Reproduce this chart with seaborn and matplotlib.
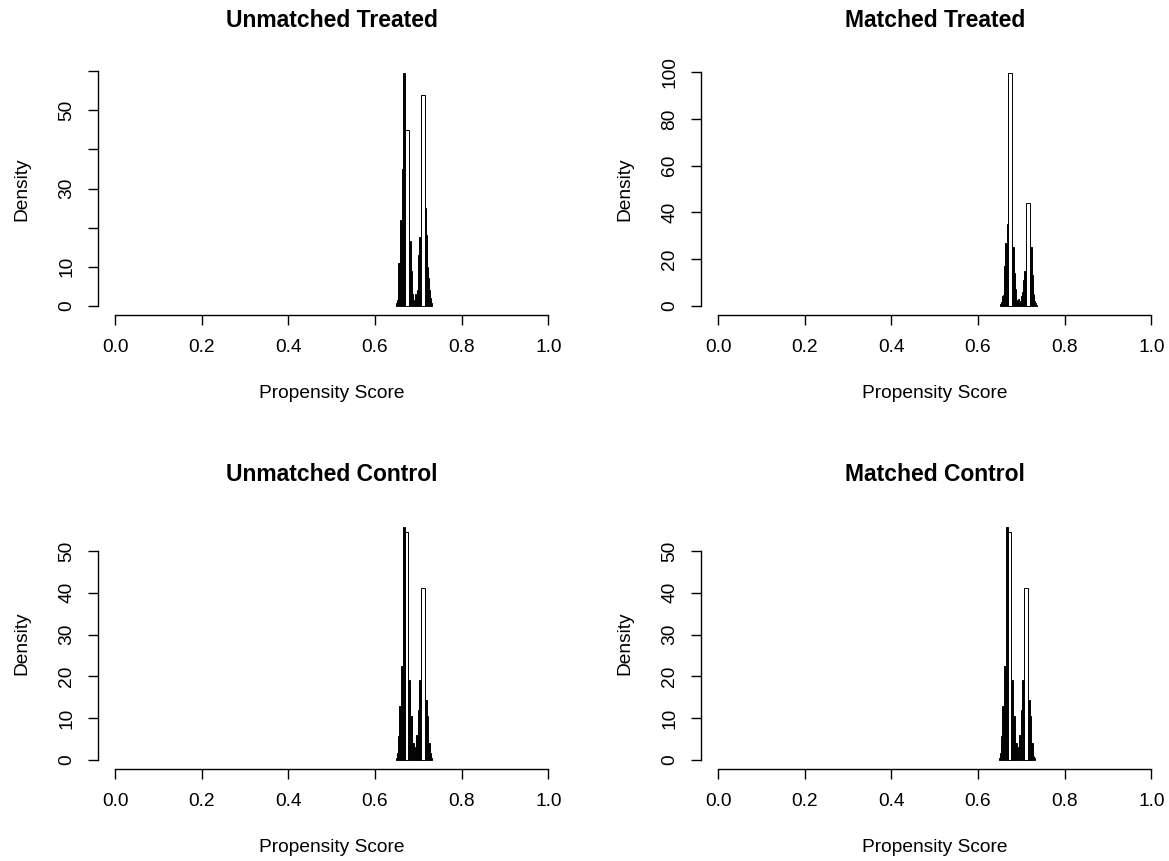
import matplotlib
matplotlib.use("Agg")
import matplotlib.pyplot as plt
import seaborn as sns

# ---------------- data (densities) ----------------
titles = ["Unmatched Treated", "Matched Treated", "Unmatched Control", "Matched Control"]

edges_unmatched_treated = [
    0.648, 0.650, 0.652, 0.654, 0.656, 0.658, 0.660, 0.662, 0.664, 0.666, 0.668, 0.670,
    0.678, 0.680, 0.682, 0.684, 0.686, 0.688, 0.690, 0.692, 0.694, 0.696, 0.698, 0.700,
    0.702, 0.704, 0.706,
    0.715, 0.717, 0.719, 0.721, 0.723, 0.725, 0.727, 0.729, 0.731,
]
density_unmatched_treated = [
    0.8, 1.5, 3, 11, 11, 22, 22, 35, 59.5, 59.5, 34,
    45,
    16.5, 16.5, 9, 9, 3, 1.5, 1, 3, 2, 4, 10, 13, 17.5, 17.5,
    54,
    25, 18, 18, 10, 7, 4, 2, 0.7,
]

edges_matched_treated = [
    0.651, 0.653, 0.655, 0.657, 0.659, 0.661, 0.663, 0.665, 0.667, 0.669,
    0.678, 0.680, 0.682, 0.684, 0.686, 0.688, 0.690, 0.692, 0.694, 0.696, 0.698, 0.700,
    0.702, 0.704, 0.706, 0.708, 0.710,
    0.720, 0.722, 0.724, 0.726, 0.728, 0.730, 0.732, 0.734, 0.736,
]
density_matched_treated = [
    0.8, 1.5, 4, 4.5, 17, 17, 27, 27, 35,
    99.5,
    25, 25, 14, 14, 7, 2.6, 1.5, 3, 1, 2, 4, 4, 6, 11, 14.7, 14.7,
    44,
    25, 25, 13, 9, 5, 2, 1, 0.5,
]

edges_control = [
    0.648, 0.650, 0.652, 0.654, 0.656, 0.658, 0.660, 0.662, 0.664, 0.666, 0.668,
    0.677, 0.679, 0.681, 0.683, 0.685, 0.687, 0.689, 0.691, 0.693, 0.695, 0.697, 0.699,
    0.701, 0.703, 0.705, 0.707,
    0.716, 0.718, 0.720, 0.722, 0.724, 0.726, 0.728, 0.730, 0.732,
]
density_unmatched_control = [
    0.5, 1.5, 3, 5.6, 12.8, 12.8, 22.4, 22.4, 55.7, 55.7,
    54.6,
    19, 19, 10.4, 10.4, 4, 4, 1.5, 3, 1, 6, 6, 12, 19, 19, 19,
    41.2,
    14.4, 14.4, 10.4, 4, 4, 1.5, 1, 0.5,
]
density_matched_control = [
    0.5, 1.5, 3, 5.6, 12.8, 12.8, 22.4, 22.4, 55.7, 55.7,
    54.6,
    19, 19, 10.4, 10.4, 4, 4, 1.5, 3, 1, 6, 6, 12, 19, 19, 19,
    41.2,
    14.4, 14.4, 10.4, 4, 4, 1.5, 1, 0.5,
]

x_ticks = [0.0, 0.2, 0.4, 0.6, 0.8, 1.0]
x_tick_labels = ["0.0", "0.2", "0.4", "0.6", "0.8", "1.0"]
y_ticks_ut = [0, 10, 20, 30, 40, 50, 60]
y_labels_ut = ["0", "10", "", "30", "", "50", ""]
y_ticks_mt = [0, 20, 40, 60, 80, 100]
y_labels_mt = ["0", "20", "40", "60", "80", "100"]
y_ticks_c = [0, 10, 20, 30, 40, 50]
y_labels_c = ["0", "10", "20", "30", "40", "50"]

x_label = "Propensity Score"
y_label = "Density"

# ---------------- styling ----------------
sns.set_style("ticks")
plt.rcParams["font.family"] = ["Liberation Sans", "DejaVu Sans"]

fig = plt.figure(figsize=(11.69, 8.61), dpi=100)
fig.patch.set_facecolor("white")

W, H = 1169.0, 861.0
ax_w = 468.0 / W
ax_h = 251.0 / H
rects = [
    [97.7 / W, (H - 315) / H, ax_w, ax_h],
    [700.7 / W, (H - 315) / H, ax_w, ax_h],
    [97.7 / W, (H - 769) / H, ax_w, ax_h],
    [700.7 / W, (H - 769) / H, ax_w, ax_h],
]

panels = [
    (edges_unmatched_treated, density_unmatched_treated, y_ticks_ut, y_labels_ut),
    (edges_matched_treated, density_matched_treated, y_ticks_mt, y_labels_mt),
    (edges_control, density_unmatched_control, y_ticks_c, y_labels_c),
    (edges_control, density_matched_control, y_ticks_c, y_labels_c),
]

FS = 13.8
for rect, title, (edges, dens, yt, yl) in zip(rects, titles, panels):
    ax = fig.add_axes(rect)
    centers = [(a + b) / 2 for a, b in zip(edges[:-1], edges[1:])]
    sns.histplot(x=centers, weights=dens, bins=edges, stat="count", ax=ax,
                 color="white", edgecolor="black", linewidth=0.7, alpha=1)
    ymax = max(dens)
    ax.set_xlim(-0.04, 1.04)
    ax.set_ylim(-0.04 * ymax, 1.04 * ymax)

    for s in ["top", "right"]:
        ax.spines[s].set_visible(False)
    for s in ["left", "bottom"]:
        ax.spines[s].set_color("black")
        ax.spines[s].set_linewidth(1.0)
    ax.spines["bottom"].set_bounds(0, 1)
    ax.spines["left"].set_bounds(yt[0], yt[-1])

    ax.set_xticks(x_ticks)
    ax.set_xticklabels(x_tick_labels, fontsize=FS)
    ax.set_yticks(yt)
    ax.set_yticklabels(yl, fontsize=FS, rotation=90, va="center")
    ax.tick_params(axis="x", direction="out", length=7.5, width=1.0, color="black",
                   pad=9.5, labelcolor="black", bottom=True)
    ax.tick_params(axis="y", direction="out", length=7.5, width=1.0, color="black",
                   pad=8.7, labelcolor="black", left=True)

    ax.set_xlabel(x_label, fontsize=FS, color="black")
    ax.xaxis.set_label_coords(0.5, -78.0 / 251.0)
    ax.xaxis.label.set_va("center")
    ax.set_ylabel(y_label, fontsize=FS, color="black")
    ax.yaxis.set_label_coords(-76.0 / 468.0, 0.5)
    ax.yaxis.label.set_va("center")

    ax.text(0.5, 1 + 43.5 / 251.0, title, transform=ax.transAxes, ha="center",
            va="center", fontsize=16.5, fontweight="bold", color="black")
    ax.set_facecolor("white")
    ax.grid(False)

fig.savefig("out.png", dpi=100, facecolor="white")
